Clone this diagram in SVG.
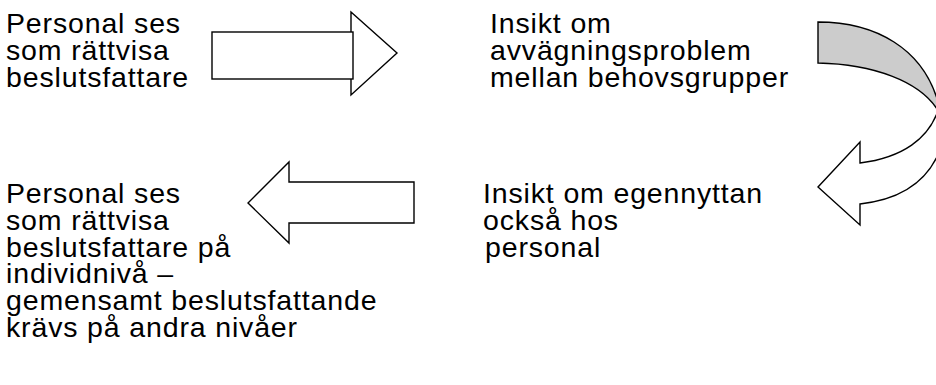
<svg xmlns="http://www.w3.org/2000/svg" width="936" height="385" viewBox="0 0 936 385">
  <style>
    .lbl { font-family: "Liberation Sans", Arial, sans-serif; font-size: 28.5px; letter-spacing: 0.85px; fill: #000; }
    .shape { fill: #fff; stroke: #000; stroke-width: 1.4; stroke-linejoin: miter; }
    .back { fill: #cccccc; stroke: #000; stroke-width: 1.4; }
  </style>
  <rect width="936" height="385" fill="#fff"/>

  <g id="step1">
    <text class="lbl" x="6" y="33">Personal ses</text>
    <text class="lbl" x="6" y="60">som rättvisa</text>
    <text class="lbl" x="6" y="87">beslutsfattare</text>
  </g>

  <g id="step2">
    <text class="lbl" x="490" y="33">Insikt om</text>
    <text class="lbl" x="490" y="60">avvägningsproblem</text>
    <text class="lbl" x="490" y="87">mellan behovsgrupper</text>
  </g>

  <g id="step3">
    <text class="lbl" x="483" y="203">Insikt om egennyttan</text>
    <text class="lbl" x="483" y="230">också hos</text>
    <text class="lbl" x="485" y="257">personal</text>
  </g>

  <g id="step4">
    <text class="lbl" x="6" y="203">Personal ses</text>
    <text class="lbl" x="6" y="230">som rättvisa</text>
    <text class="lbl" x="6" y="257">beslutsfattare på</text>
    <text class="lbl" x="6" y="283">individnivå –</text>
    <text class="lbl" x="6" y="310">gemensamt beslutsfattande</text>
    <text class="lbl" x="6" y="337">krävs på andra nivåer</text>
  </g>

  <g id="connectors">
    <!-- block arrow pointing right -->
    <g id="arrow-right">
      <polygon class="shape" points="351,12 397,53 351,95"/>
      <rect class="shape" x="212" y="32" width="141" height="47"/>
    </g>
    <!-- curved U-turn arrow, running off the right edge -->
    <g id="arrow-uturn">
      <path class="back" d="M818,22 C872,22 926,46 940,110 L940,114 C922,80 870,64 818,63 Z"/>
      <path class="shape" d="M940,104 C931,140 900,158 860,163 L860,142 L818,187 L860,225 L860,204 C896,200 926,186 940,150 Z"/>
    </g>
    <!-- block arrow pointing left -->
    <g id="arrow-left">
      <polygon class="shape" points="248,203 289,162 289,182 414,182 414,223 289,223 289,243"/>
    </g>
  </g>
</svg>
